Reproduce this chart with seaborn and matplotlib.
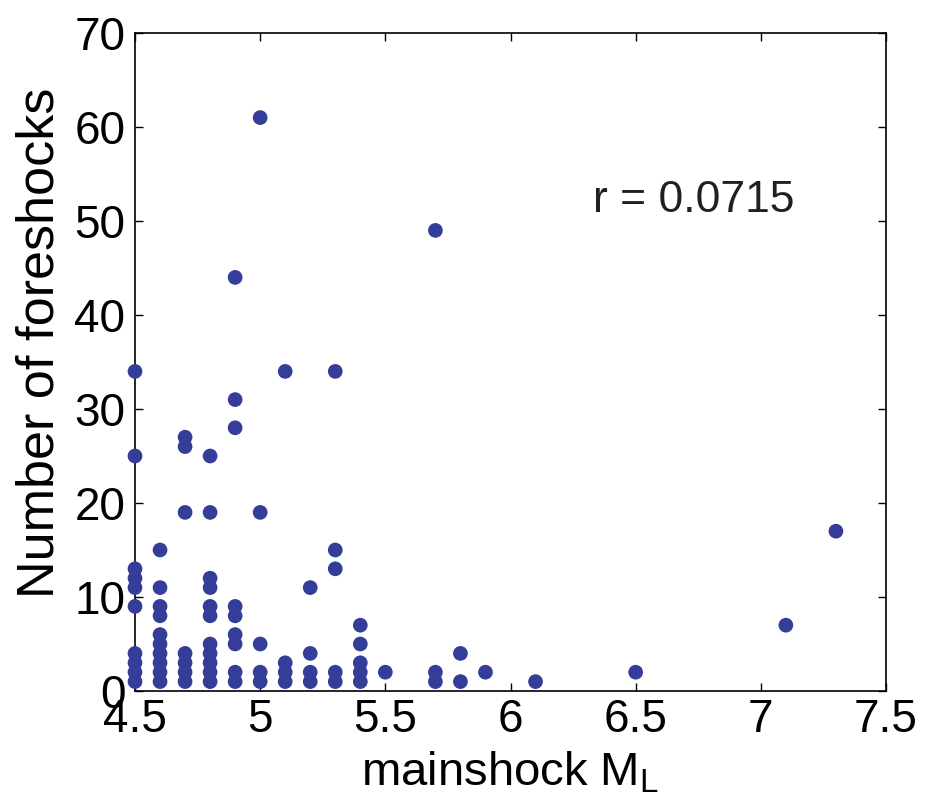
import numpy as np
import pandas as pd
import seaborn as sns
import matplotlib
matplotlib.use("Agg")
import matplotlib.pyplot as plt

# mainshock magnitude and foreshock counts
mag_45 = [1, 2, 3, 4, 9, 11, 12, 13, 25, 34]
mag_46 = [1, 2, 3, 4, 5, 6, 8, 9, 11, 15]
mag_47 = [1, 2, 3, 4, 19, 26, 27]
mag_48 = [1, 2, 3, 4, 5, 8, 9, 11, 12, 19, 25]
mag_49 = [1, 2, 5, 6, 8, 9, 28, 31, 44]
mag_50 = [1, 2, 5, 19, 61]
mag_51 = [1, 2, 3, 34]
mag_52 = [1, 2, 4, 11]
mag_53 = [1, 2, 13, 15, 34]
mag_54 = [1, 2, 3, 5, 7]
other_mag = [5.5, 5.7, 5.7, 5.7, 5.8, 5.8, 5.9, 6.1, 6.5, 7.1, 7.3]
other_cnt = [2, 1, 2, 49, 1, 4, 2, 1, 2, 7, 17]

columns = {4.5: mag_45, 4.6: mag_46, 4.7: mag_47, 4.8: mag_48, 4.9: mag_49,
           5.0: mag_50, 5.1: mag_51, 5.2: mag_52, 5.3: mag_53, 5.4: mag_54}

rows = [(m, c) for m, cnts in columns.items() for c in cnts]
rows += list(zip(other_mag, other_cnt))
df = pd.DataFrame(rows, columns=["ML", "nfore"])

x_ticks = [4.5, 5, 5.5, 6, 6.5, 7, 7.5]
x_ticklabels = ["4.5", "5", "5.5", "6", "6.5", "7", "7.5"]
y_ticks = [0, 10, 20, 30, 40, 50, 60, 70]

sns.set_style("ticks")
plt.rcParams["font.family"] = ["Liberation Sans", "DejaVu Sans"]

fig, ax = plt.subplots(figsize=(9.39, 7.99), dpi=100)
fig.subplots_adjust(left=135 / 939, right=886 / 939, top=1 - 33 / 799, bottom=1 - 691 / 799)

sns.scatterplot(data=df, x="ML", y="nfore", ax=ax, s=112, color="#343d98",
                edgecolor="none", linewidth=0, clip_on=False, zorder=3)

ax.set_xlim(4.5, 7.5)
ax.set_ylim(0, 70)
ax.set_xticks(x_ticks)
ax.set_xticklabels(x_ticklabels)
ax.set_yticks(y_ticks)
ax.tick_params(direction="in", length=6, width=1, top=True, right=True,
               labelsize=33, colors="black")
ax.tick_params(axis="x", pad=5)
ax.tick_params(axis="y", pad=7)
for sp in ax.spines.values():
    sp.set_visible(True)
    sp.set_linewidth(1.2)
    sp.set_color("black")

ax.set_xlabel(r"mainshock M$_\mathregular{L}$", fontsize=34, labelpad=6, color="black")
ax.set_ylabel("Number of foreshocks", fontsize=37.5, labelpad=7, color="black")
ax.yaxis.label.set_y(0.529)

ax.text(6.33, 51.0, "r = 0.0715", fontsize=32, color="#231f20",
        ha="left", va="baseline")

fig.savefig("out.png", dpi=100)
